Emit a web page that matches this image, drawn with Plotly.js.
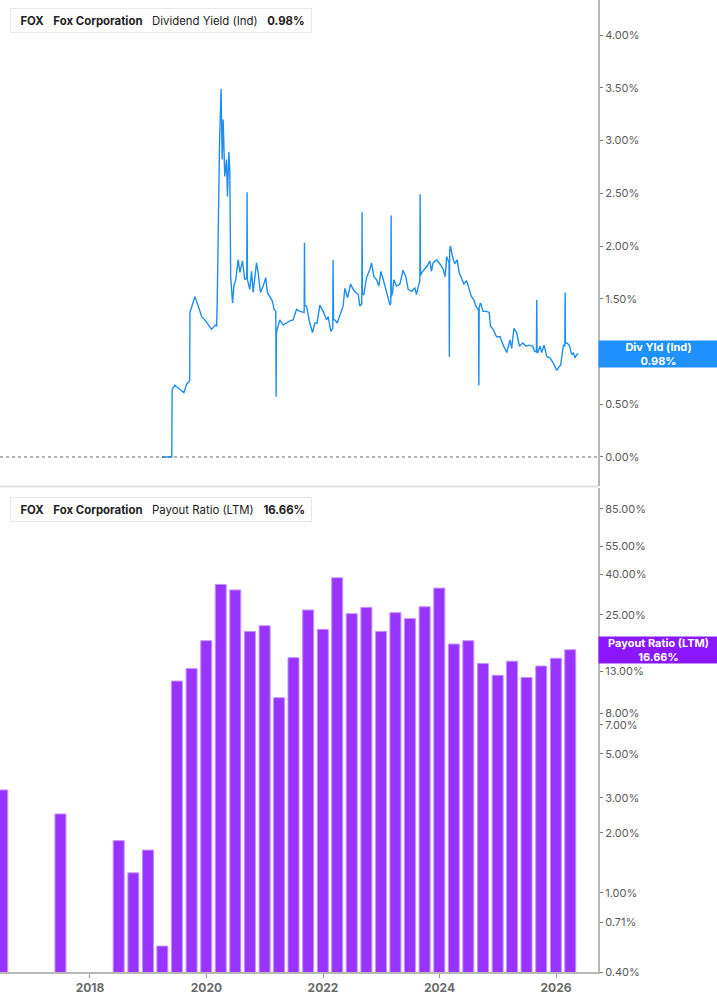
<!DOCTYPE html>
<html>
<head>
<meta charset="utf-8">
<script src="https://cdn.plot.ly/plotly-3.0.1.min.js"></script>
<style>
  html, body { margin: 0; padding: 0; background: #fff; }
  #chart { width: 717px; height: 1005px; }
</style>
</head>
<body>
<div id="chart"></div>
<script>
// dividend yield (ind), %
const yieldDates = [
  '2019-03-28', '2019-05-29', '2019-05-31', '2019-06-18', '2019-07-19', '2019-08-13', '2019-08-30', '2019-09-14',
  '2019-09-18', '2019-09-20', '2019-10-01', '2019-10-21', '2019-11-11', '2019-12-02', '2019-12-23', '2020-01-13',
  '2020-02-03', '2020-02-24', '2020-03-05', '2020-03-09', '2020-03-17', '2020-03-23', '2020-04-02', '2020-04-09',
  '2020-04-15', '2020-04-25', '2020-05-06', '2020-05-12', '2020-05-21', '2020-05-27', '2020-06-01', '2020-06-13',
  '2020-06-21', '2020-07-03', '2020-07-18', '2020-07-29', '2020-08-14', '2020-08-29', '2020-09-10', '2020-09-12',
  '2020-09-14', '2020-09-29', '2020-10-10', '2020-10-20', '2020-10-31', '2020-11-10', '2020-11-20', '2020-12-05',
  '2020-12-22', '2021-01-07', '2021-01-17', '2021-02-03', '2021-02-17', '2021-02-28', '2021-03-11', '2021-03-13',
  '2021-03-15', '2021-04-05', '2021-04-26', '2021-05-17', '2021-06-07', '2021-06-28', '2021-07-19', '2021-08-09',
  '2021-08-30', '2021-09-05', '2021-09-07', '2021-09-09', '2021-09-20', '2021-10-10', '2021-10-27', '2021-11-11',
  '2021-11-25', '2021-12-12', '2022-01-02', '2022-01-23', '2022-02-02', '2022-02-19', '2022-03-03', '2022-03-05',
  '2022-03-08', '2022-03-16', '2022-03-31', '2022-04-17', '2022-05-07', '2022-05-18', '2022-06-04', '2022-06-23',
  '2022-07-09', '2022-07-26', '2022-08-10', '2022-08-20', '2022-09-01', '2022-09-03', '2022-09-05', '2022-09-14',
  '2022-10-01', '2022-10-22', '2022-11-01', '2022-11-16', '2022-12-03', '2022-12-17', '2022-12-30', '2023-01-14',
  '2023-01-31', '2023-02-14', '2023-02-25', '2023-03-02', '2023-03-04', '2023-03-06', '2023-03-13', '2023-03-21',
  '2023-04-07', '2023-04-28', '2023-05-18', '2023-06-04', '2023-06-19', '2023-07-10', '2023-07-31', '2023-08-10',
  '2023-08-27', '2023-08-31', '2023-09-02', '2023-09-04', '2023-09-13', '2023-10-01', '2023-10-16', '2023-11-02',
  '2023-11-12', '2023-11-22', '2023-12-14', '2024-01-04', '2024-01-24', '2024-02-06', '2024-02-15', '2024-02-25',
  '2024-03-01', '2024-03-03', '2024-03-05', '2024-03-10', '2024-03-23', '2024-04-06', '2024-04-21', '2024-05-03',
  '2024-05-18', '2024-06-02', '2024-06-19', '2024-07-05', '2024-07-20', '2024-08-04', '2024-08-16', '2024-08-29',
  '2024-09-02', '2024-09-04', '2024-09-06', '2024-09-15', '2024-10-01', '2024-10-22', '2024-11-08', '2024-11-16',
  '2024-12-03', '2024-12-24', '2025-01-15', '2025-02-04', '2025-02-26', '2025-03-18', '2025-03-29', '2025-04-12',
  '2025-04-29', '2025-05-16', '2025-06-06', '2025-06-27', '2025-07-17', '2025-08-08', '2025-08-20', '2025-08-31',
  '2025-09-02', '2025-09-04', '2025-09-08', '2025-09-23', '2025-10-03', '2025-10-18', '2025-11-04', '2025-11-24',
  '2025-12-15', '2026-01-05', '2026-01-22', '2026-01-30', '2026-02-16', '2026-02-25', '2026-02-27', '2026-03-01',
  '2026-03-09', '2026-03-25', '2026-04-09', '2026-04-19', '2026-04-30', '2026-05-10', '2026-05-20'
];
const yieldValues = [
  0.00, 0.00, 0.64, 0.68, 0.64, 0.61, 0.69, 0.72,
  0.72, 1.37, 1.43, 1.52, 1.43, 1.33, 1.30, 1.25,
  1.21, 1.25, 1.24, 1.49, 2.41, 2.95, 3.49, 2.82,
  3.20, 2.66, 2.82, 2.47, 2.89, 2.70, 1.71, 1.46,
  1.62, 1.68, 1.87, 1.75, 1.86, 1.68, 1.70, 2.51,
  1.68, 1.59, 1.76, 1.56, 1.71, 1.84, 1.75, 1.56,
  1.62, 1.70, 1.56, 1.52, 1.48, 1.40, 1.38, 0.57,
  1.18, 1.30, 1.25, 1.27, 1.29, 1.30, 1.40, 1.38,
  1.37, 1.37, 2.03, 1.43, 1.43, 1.27, 1.18, 1.27,
  1.27, 1.44, 1.38, 1.30, 1.33, 1.19, 1.22, 1.87,
  1.30, 1.30, 1.27, 1.35, 1.43, 1.60, 1.51, 1.64,
  1.59, 1.56, 1.54, 1.43, 1.45, 2.32, 1.54, 1.54,
  1.70, 1.78, 1.84, 1.71, 1.68, 1.62, 1.76, 1.68,
  1.59, 1.51, 1.44, 1.46, 2.29, 1.52, 1.56, 1.68,
  1.62, 1.64, 1.77, 1.71, 1.59, 1.57, 1.60, 1.54,
  1.65, 1.66, 2.49, 1.72, 1.75, 1.78, 1.81, 1.86,
  1.76, 1.84, 1.87, 1.83, 1.78, 1.71, 1.90, 1.86,
  1.85, 0.95, 1.95, 2.00, 1.90, 1.83, 1.87, 1.75,
  1.70, 1.64, 1.67, 1.60, 1.52, 1.49, 1.43, 1.40,
  1.40, 0.68, 1.42, 1.46, 1.38, 1.38, 1.37, 1.24,
  1.21, 1.14, 1.14, 1.06, 0.99, 1.11, 1.03, 1.22,
  1.18, 1.05, 1.08, 1.05, 1.06, 1.05, 1.00, 1.00,
  1.49, 0.99, 0.99, 1.05, 0.99, 1.06, 0.95, 0.94,
  0.89, 0.82, 0.86, 0.87, 1.06, 1.05, 1.56, 1.08,
  1.08, 1.06, 0.97, 0.99, 0.94, 0.97, 0.98
];

// payout ratio (LTM), % — one bar per reported quarter
const payoutDates = [
  '2016-06-30', '2017-06-30',
  '2018-06-30', '2018-09-30', '2018-12-31',
  '2019-03-31', '2019-06-30', '2019-09-30', '2019-12-31',
  '2020-03-31', '2020-06-30', '2020-09-30', '2020-12-31',
  '2021-03-31', '2021-06-30', '2021-09-30', '2021-12-31',
  '2022-03-31', '2022-06-30', '2022-09-30', '2022-12-31',
  '2023-03-31', '2023-06-30', '2023-09-30', '2023-12-31',
  '2024-03-31', '2024-06-30', '2024-09-30', '2024-12-31',
  '2025-03-31', '2025-06-30', '2025-09-30', '2025-12-31',
  '2026-03-31'
];
const payoutValues = [
  3.29, 2.49,
  1.83, 1.26, 1.64,
  0.54, 11.6, 13.4, 18.5,
  35.5, 33.3, 20.6, 22.0,
  9.57, 15.2, 26.4, 21.1,
  38.3, 25.3, 27.2, 20.6,
  25.6, 23.9, 27.4, 34.0,
  17.8, 18.5, 14.2, 12.4,
  14.6, 12.1, 13.8, 15.1,
  16.66
];

const yieldTicks = [0, 0.5, 1, 1.5, 2, 2.5, 3, 3.5, 4];
const payoutTicks = [0.4, 0.71, 1, 2, 3, 5, 7, 8, 13, 25, 40, 55, 85];

const lastYield = 0.98;
const lastPayout = 16.66;

const COLORS = {
  line: '#1f8ef1',
  yieldTag: '#1e90ff',
  bar: '#9933ff',
  barEdge: '#c493ff',
  payoutTag: '#8a17ff',
  axis: '#b8b8b8',
  tickText: '#5a5a5a',
  text: '#222'
};
const FONT = "Inter, 'Noto Sans', sans-serif";
const X_RANGE = ['2016-06-16', '2026-09-21'];
const PLOT_H = 972; // px height of the plotting area (top margin 0)
const SP = '&nbsp;&nbsp;&nbsp;';

function pct(v) { return v.toFixed(2) + '%'; }
function py(px) { return (PLOT_H - px) / PLOT_H; } // pixel row -> paper y
function pxX(px) { return px / 598; }

const traces = [
  {
    x: yieldDates, y: yieldValues,
    type: 'scatter', mode: 'lines',
    line: { color: COLORS.line, width: 1.4 },
    xaxis: 'x', yaxis: 'y',
    hoverinfo: 'skip'
  },
  {
    x: payoutDates, y: payoutValues,
    type: 'bar',
    width: 69 * 86400000,
    marker: { color: COLORS.bar, line: { color: COLORS.barEdge, width: 1 } },
    xaxis: 'x2', yaxis: 'y2',
    hoverinfo: 'skip'
  }
];

function legendBox(yTop, color, name, value) {
  return {
    ann: {
      xref: 'paper', yref: 'paper',
      x: pxX(10), y: py(yTop), xanchor: 'left', yanchor: 'top',
      text: '&nbsp;&nbsp;<b>FOX</b>' + SP + '<b>Fox Corporation</b>' + SP + name + SP + '<b>' + value + '</b>&nbsp;',
      showarrow: false, align: 'left', height: 17,
      font: { family: FONT, size: 11.4, color: COLORS.text },
      bgcolor: '#ffffff', bordercolor: '#e8e8e8', borderwidth: 1, borderpad: 3
    },
    bar: {
      type: 'line', xref: 'paper', yref: 'paper',
      x0: pxX(11.5), x1: pxX(11.5), y0: py(yTop + 1), y1: py(yTop + 24),
      line: { color: color, width: 3 }
    }
  };
}

const topLegend = legendBox(8, COLORS.yieldTag, 'Dividend Yield (Ind)', pct(lastYield));
const botLegend = legendBox(497, '#8a17ff', 'Payout Ratio (LTM)', pct(lastPayout));

const layout = {
  width: 717, height: 1005,
  margin: { l: 0, r: 119, t: 0, b: 33 },
  paper_bgcolor: '#ffffff', plot_bgcolor: '#ffffff',
  showlegend: false,
  font: { family: FONT, color: COLORS.tickText },
  xaxis: {
    type: 'date', range: X_RANGE, domain: [0, 1], anchor: 'y',
    showticklabels: false, showgrid: false, zeroline: false, ticks: ''
  },
  yaxis: {
    domain: [0.5, 1], anchor: 'x', side: 'right',
    range: [-0.275, 4.332],
    tickvals: yieldTicks, ticktext: yieldTicks.map(pct),
    showgrid: false, zeroline: false,
    showline: true, linecolor: COLORS.axis, linewidth: 2,
    ticks: 'outside', ticklen: 3, tickcolor: '#777', tickwidth: 1,
    tickfont: { family: FONT, size: 11, color: COLORS.tickText }
  },
  xaxis2: {
    type: 'date', range: X_RANGE, domain: [0, 1], anchor: 'y2',
    tick0: '2018-01-01', dtick: 'M24', tickformat: '%Y',
    showgrid: false, zeroline: false,
    showline: true, linecolor: COLORS.axis, linewidth: 2,
    ticks: 'outside', ticklen: 4, tickcolor: '#999', tickwidth: 1,
    tickfont: { family: FONT, size: 12, color: '#6a6a6a', weight: 'bold' }
  },
  yaxis2: {
    type: 'log', domain: [0, 0.498], anchor: 'x2', side: 'right',
    range: [Math.log10(0.4), 2.035],
    tickvals: payoutTicks, ticktext: payoutTicks.map(pct),
    showgrid: false, zeroline: false,
    showline: true, linecolor: COLORS.axis, linewidth: 2,
    ticks: 'outside', ticklen: 3, tickcolor: '#777', tickwidth: 1,
    tickfont: { family: FONT, size: 11, color: COLORS.tickText }
  },
  bargap: 0,
  shapes: [
    // zero reference on the yield panel
    { type: 'line', xref: 'paper', yref: 'y', x0: 0, x1: 1, y0: 0, y1: 0,
      line: { color: '#666', width: 1, dash: 'dot' } },
    // panel separator
    { type: 'line', xref: 'paper', yref: 'paper', x0: 0, x1: 1, y0: py(486.5), y1: py(486.5),
      line: { color: '#dedede', width: 2 } },
    topLegend.bar, botLegend.bar
  ],
  annotations: [
    topLegend.ann, botLegend.ann,
    {
      xref: 'paper', yref: 'y', x: 1, y: lastYield, xanchor: 'left', yanchor: 'middle',
      text: '<b>Div Yld (Ind)<br>' + pct(lastYield) + '</b>',
      showarrow: false, align: 'center', width: 119, height: 26,
      font: { family: FONT, size: 11, color: '#fff' },
      bgcolor: COLORS.yieldTag, borderpad: 0
    },
    {
      xref: 'paper', yref: 'y2', x: 1, y: Math.log10(lastPayout), xanchor: 'left', yanchor: 'middle',
      text: '<b>Payout Ratio (LTM)<br>' + pct(lastPayout) + '</b>',
      showarrow: false, align: 'center', width: 119, height: 26,
      font: { family: FONT, size: 11, color: '#fff' },
      bgcolor: COLORS.payoutTag, borderpad: 0
    }
  ]
};

Plotly.newPlot('chart', traces, layout, { displayModeBar: false, staticPlot: true });
</script>
</body>
</html>
